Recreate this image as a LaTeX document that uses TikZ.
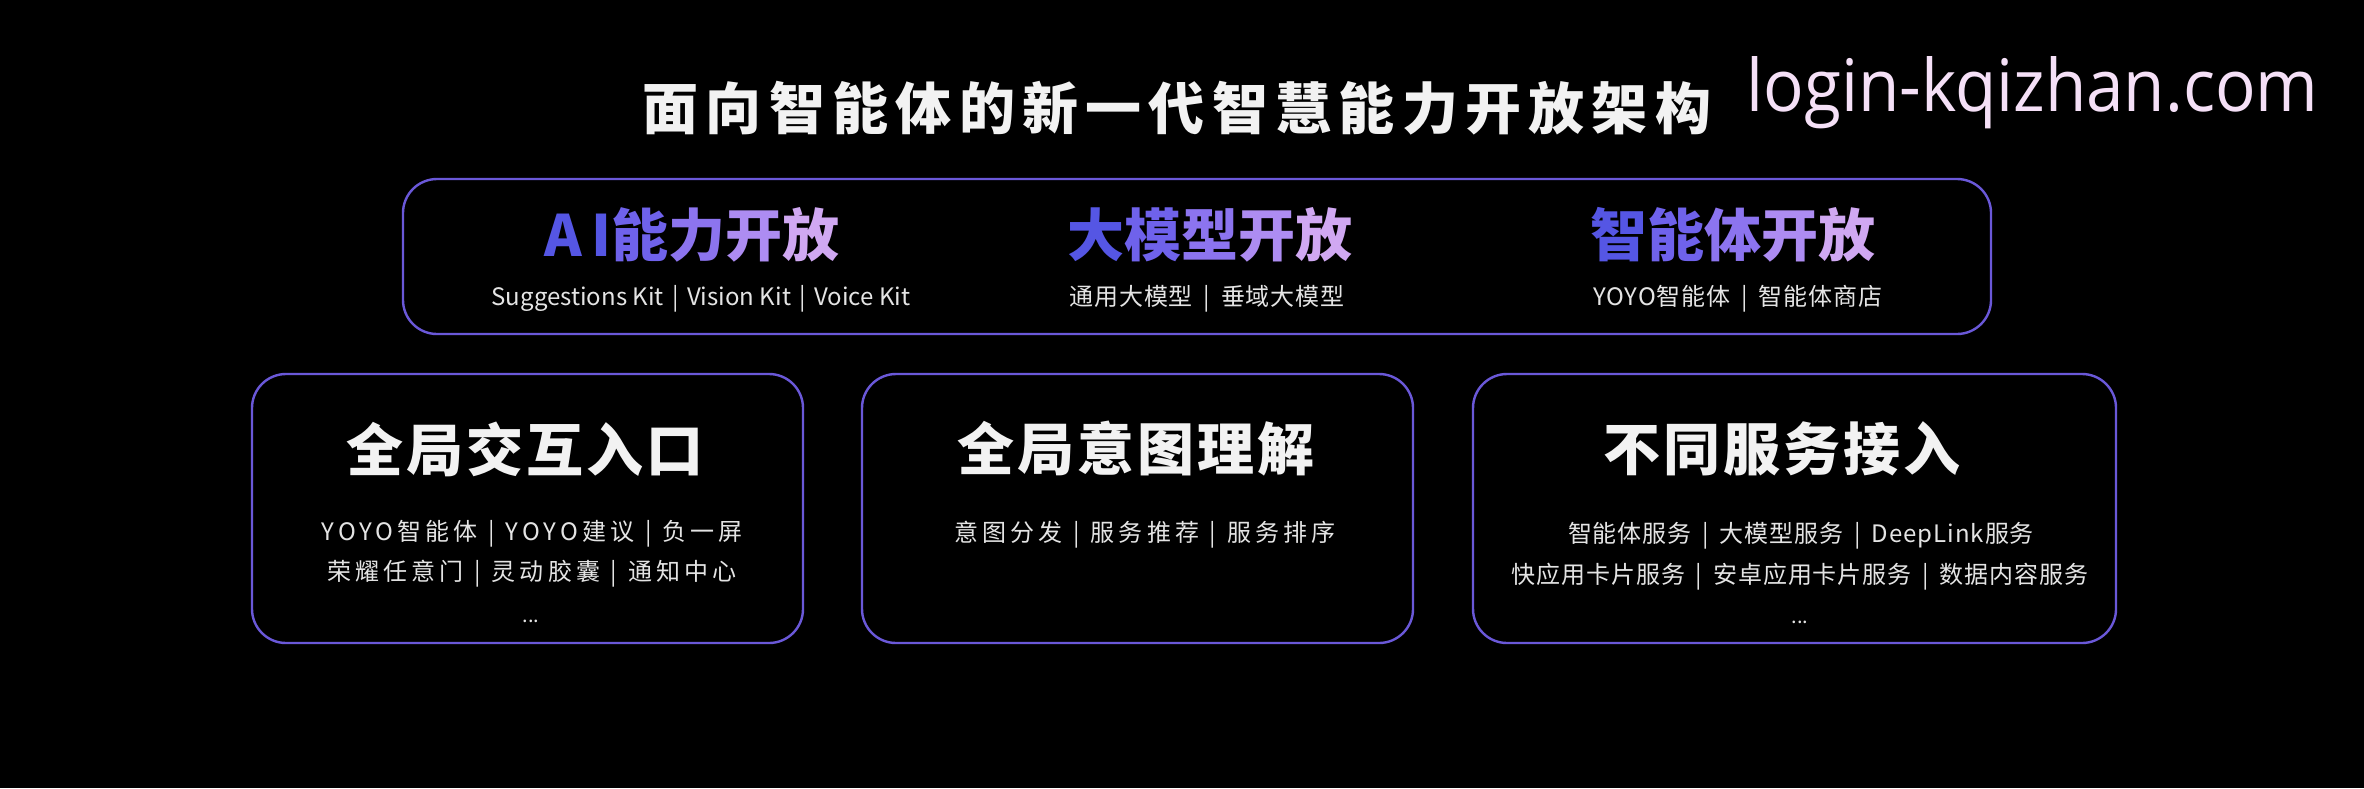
\documentclass[tikz,border=0pt]{standalone}
\usepackage{fontspec}
\usepackage{graphicx}
\setmainfont{Noto Sans CJK SC}
\newfontfamily\cjkT[LetterSpace=13]{Noto Sans CJK SC}
\newfontfamily\cjkH[LetterSpace=16]{Noto Sans CJK SC}
\newfontfamily\cjkB[LetterSpace=5]{Noto Sans CJK SC}
\newfontfamily\cjkS[LetterSpace=4]{Noto Sans CJK SC}
\newfontfamily\cjkZ{Noto Sans CJK SC}
\newfontfamily\cjkL[LetterSpace=17]{Noto Sans CJK SC}
\newfontfamily\cjkM[LetterSpace=4]{Noto Sans CJK SC}
\newfontfamily\wmfont{Open Sans}
\definecolor{bg}{HTML}{000000}
\definecolor{stroke}{HTML}{6A58D8}
\definecolor{ga}{HTML}{5556E4}
\definecolor{gb}{HTML}{6F62EB}
\definecolor{gc}{HTML}{8C74EF}
\definecolor{gd}{HTML}{AD8CF2}
\definecolor{ge}{HTML}{D0A8F2}
\definecolor{txt}{HTML}{F2F2F2}
\definecolor{subtxt}{HTML}{E4E4E4}
\definecolor{wm}{HTML}{F5E0F7}
\newcommand\gcol[2]{\textcolor{#1}{#2}}
\newcommand\sepbar{\hspace{0.45em}|\hspace{0.45em}}
\newcommand\sepbarn{\hspace{0.35em}|\hspace{0.35em}}
\tikzset{
  panel/.style={draw=stroke, line width=1.2pt, rounded corners=17pt, inner sep=0pt},
  maintitle/.style={text=txt, font=\cjkT\bfseries\fontsize{28}{34}\selectfont, inner sep=0pt},
  heading/.style={font=\cjkH\bfseries\fontsize{28.5}{34}\selectfont, inner sep=0pt},
  boxtitle/.style={text=txt, font=\cjkB\bfseries\fontsize{28.5}{34}\selectfont, inner sep=0pt},
  topsub/.style={text=subtxt, font=\cjkS\fontsize{12}{14}\selectfont, inner sep=0pt},
  topsublat/.style={text=subtxt, font=\cjkZ\fontsize{12}{14}\selectfont, inner sep=0pt},
  botsub/.style={text=subtxt, font=\cjkL\fontsize{12}{14}\selectfont, inner sep=0pt},
  botsubn/.style={text=subtxt, font=\cjkM\fontsize{12}{14}\selectfont, inner sep=0pt},
  dots/.style={text=subtxt, font=\fontsize{10}{12}\selectfont, inner sep=0pt},
}
\begin{document}
\begin{tikzpicture}[x=0.5pt,y=-0.5pt]
\fill[bg] (0,0) rectangle (2364,788);
\useasboundingbox (0,0) rectangle (2364,788);

% title and watermark
\node[maintitle] (title) at (1177,108.5) {面向智能体的新一代智慧能力开放架构};
\node[anchor=base west, inner sep=0pt, text=wm] (wm) at (1746,111)
  {\resizebox{286pt}{27.5pt}{\wmfont login-kqizhan.com}};

% top panel
\node[panel, minimum width=794pt, minimum height=77.5pt] (top) at (1197,256.5) {};
\node[heading] (h1) at (692,235) {\gcol{ga}{AI}\gcol{gb}{能}\gcol{gc}{力}\gcol{gd}{开}\gcol{ge}{放}};
\node[heading] (h2) at (1210,235) {\gcol{ga}{大}\gcol{gb}{模}\gcol{gc}{型}\gcol{gd}{开}\gcol{ge}{放}};
\node[heading] (h3) at (1733,235) {\gcol{ga}{智}\gcol{gb}{能}\gcol{gc}{体}\gcol{gd}{开}\gcol{ge}{放}};
\node[topsublat] (s1) at (701,299) {Suggestions Kit\sepbarn Vision Kit\sepbarn Voice Kit};
\node[topsub] (s2) at (1207,299) {通用大模型\sepbar 垂域大模型};
\node[topsub] (s3) at (1738,299) {YOYO智能体\sepbar 智能体商店};

% bottom panels
\node[panel, minimum width=275.5pt, minimum height=134.5pt] (b1) at (527.5,508.5) {};
\node[panel, minimum width=275.5pt, minimum height=134.5pt] (b2) at (1137.5,508.5) {};
\node[panel, minimum width=321.5pt, minimum height=134.5pt] (b3) at (1794.5,508.5) {};

\node[boxtitle] (t1) at (525,449) {全局交互入口};
\node[boxtitle] (t2) at (1136,449) {全局意图理解};
\node[boxtitle] (t3) at (1782,449) {不同服务接入};

\node[botsub] (b1l1) at (532,534) {YOYO智能体\sepbar YOYO建议\sepbar 负一屏};
\node[botsub] (b1l2) at (532,574) {荣耀任意门\sepbar 灵动胶囊\sepbar 通知中心};
\node[dots] (b1l3) at (531,621) {...};

\node[botsub] (b2l1) at (1145,535) {意图分发\sepbar 服务推荐\sepbar 服务排序};

\node[botsubn] (b3l1) at (1801,536) {智能体服务\sepbar 大模型服务\sepbar DeepLink服务};
\node[botsubn] (b3l2) at (1800,577) {快应用卡片服务\sepbar 安卓应用卡片服务\sepbar 数据内容服务};
\node[dots] (b3l3) at (1800,622) {...};
\end{tikzpicture}
\end{document}
